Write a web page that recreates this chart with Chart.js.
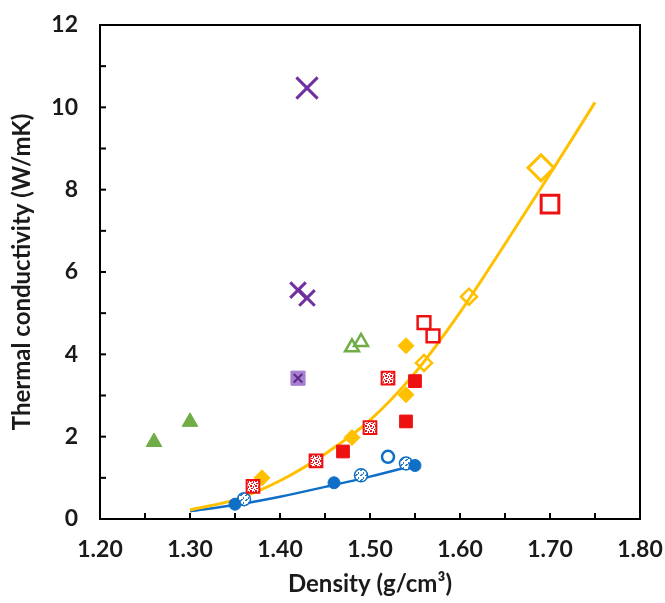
<!DOCTYPE html>
<html>
<head>
<meta charset="utf-8">
<script src="https://cdn.jsdelivr.net/npm/chart.js@4.4.0/dist/chart.umd.min.js"></script>
<style>
  html, body { margin: 0; padding: 0; background: #ffffff; }
  #wrap { width: 665px; height: 603px; }
</style>
</head>
<body>
<div id="wrap"><canvas id="densityChart" width="665" height="603"></canvas></div>
<script>
const greenFilledX = [1.26, 1.30];
const greenFilledY = [1.87, 2.36];
const greenOpenX = [1.48, 1.49];
const greenOpenY = [4.17, 4.30];
const purpleCrossX = [1.43, 1.42, 1.43];
const purpleCrossY = [10.47, 5.56, 5.37];
const purpleBoxX = [1.42];
const purpleBoxY = [3.42];
const redFilledX = [1.47, 1.54, 1.55];
const redFilledY = [1.64, 2.37, 3.35];
const redPatternX = [1.37, 1.44, 1.50, 1.52];
const redPatternY = [0.79, 1.41, 2.22, 3.42];
const redOpenX = [1.56, 1.57, 1.70];
const redOpenY = [4.77, 4.45, 7.65];
const orangeFilledX = [1.38, 1.48, 1.54, 1.54];
const orangeFilledY = [1.00, 1.98, 3.02, 4.21];
const orangeOpenX = [1.56, 1.61, 1.69];
const orangeOpenY = [3.79, 5.40, 8.53];
const blueFilledX = [1.35, 1.46, 1.55];
const blueFilledY = [0.36, 0.88, 1.30];
const bluePatternX = [1.36, 1.49, 1.54];
const bluePatternY = [0.48, 1.06, 1.35];
const blueOpenX = [1.52];
const blueOpenY = [1.51];

// fitted trend lines
const orangeFitX = [1.30, 1.35, 1.40, 1.45, 1.50, 1.55, 1.60, 1.65, 1.70, 1.75];
const orangeFitY = [0.22, 0.47, 0.93, 1.58, 2.40, 3.55, 5.02, 6.68, 8.38, 10.12];
const blueFitX = [1.30, 1.35, 1.40, 1.45, 1.50, 1.55];
const blueFitY = [0.19, 0.34, 0.54, 0.78, 1.03, 1.31];

const xTicks = ['1.20', '1.30', '1.40', '1.50', '1.60', '1.70', '1.80'];
const yTicks = ['0', '2', '4', '6', '8', '10', '12'];

function pts(xs, ys) {
    return xs.map((x, i) => ({ x: x, y: ys[i] }));
}

function makePattern(bg, fg, spots) {
    const c = document.createElement('canvas');
    c.width = 5;
    c.height = 5;
    const g = c.getContext('2d');
    g.fillStyle = bg;
    g.fillRect(0, 0, 5, 5);
    g.fillStyle = fg;
    spots.forEach(s => g.fillRect(s[0], s[1], s[2], s[3]));
    return g.createPattern(c, 'repeat');
}

const redPattern = makePattern('#ffffff', '#e8141b', [[0, 0, 2, 2], [3, 1, 1, 2], [1, 3, 2, 1], [4, 4, 1, 1]]);
const bluePattern = makePattern('#ffffff', '#2a7cc6', [[0, 0, 2, 1], [3, 2, 1, 2], [1, 4, 2, 1]]);

const ORANGE = '#ffc000';
const BLUE = '#0f6fc6';
const RED = '#ee1111';
const GREEN = '#70ad47';
const PURPLE = '#7030a0';
const CLEAR = 'rgba(255,255,255,0)';

const fontFamily = "'Lato', 'Liberation Sans', sans-serif";

// frame round the plot and inward tick marks
const frameTicks = {
    id: 'frameTicks',
    afterDraw(chart) {
        const ctx = chart.ctx;
        const a = chart.chartArea;
        ctx.save();
        ctx.strokeStyle = '#000000';
        ctx.lineWidth = 2;
        ctx.strokeRect(a.left, a.top, a.right - a.left, a.bottom - a.top);
        const xs = chart.scales.x;
        xs.ticks.forEach((t, i) => {
            const px = xs.getPixelForTick(i);
            ctx.beginPath();
            ctx.moveTo(px, a.bottom);
            ctx.lineTo(px, a.bottom - 6);
            ctx.stroke();
        });
        const ys = chart.scales.y;
        ys.ticks.forEach((t, i) => {
            const py = ys.getPixelForTick(i);
            ctx.beginPath();
            ctx.moveTo(a.left, py);
            ctx.lineTo(a.left + 6, py);
            ctx.stroke();
        });
        ctx.restore();
    }
};

function markers(label, xs, ys, style, radius, fill, border, width) {
    return {
        label: label,
        data: pts(xs, ys),
        pointStyle: style,
        pointRadius: radius,
        pointHoverRadius: radius,
        backgroundColor: fill,
        borderColor: border,
        pointBorderWidth: width,
        showLine: false
    };
}

const ctx = document.getElementById('densityChart').getContext('2d');

new Chart(ctx, {
    type: 'scatter',
    data: {
        datasets: [
            markers('purple cross', purpleCrossX, purpleCrossY, 'crossRot', [15, 11, 11], PURPLE, PURPLE, 3),
            markers('purple box x', purpleBoxX, purpleBoxY, 'crossRot', 6, PURPLE, '#5a2a8a', 2),
            markers('purple box', purpleBoxX, purpleBoxY, 'rect', 10, '#a77fd0', '#a77fd0', 1),
            markers('green filled', greenFilledX, greenFilledY, 'triangle', 9, GREEN, GREEN, 1),
            markers('green open', greenOpenX, greenOpenY, 'triangle', 8, CLEAR, GREEN, 2.5),
            markers('red filled', redFilledX, redFilledY, 'rect', 9, RED, RED, 1),
            markers('red pattern', redPatternX, redPatternY, 'rect', 9, redPattern, RED, 2),
            markers('red open', redOpenX, redOpenY, 'rect', [9, 9, 12.5], CLEAR, RED, [2.5, 2.5, 3]),
            markers('orange filled', orangeFilledX, orangeFilledY, 'rectRot', 8, ORANGE, ORANGE, 1),
            markers('orange open', orangeOpenX, orangeOpenY, 'rectRot', [8, 8, 13], CLEAR, ORANGE, [2.5, 2.5, 3]),
            markers('blue filled', blueFilledX, blueFilledY, 'circle', 6, BLUE, BLUE, 1),
            markers('blue pattern', bluePatternX, bluePatternY, 'circle', 6.5, bluePattern, BLUE, 1.5),
            markers('blue open', blueOpenX, blueOpenY, 'circle', 6, CLEAR, BLUE, 2.5),
            {
                label: 'orange fit',
                data: pts(orangeFitX, orangeFitY),
                showLine: true,
                borderColor: ORANGE,
                borderWidth: 3,
                pointRadius: 0,
                cubicInterpolationMode: 'monotone'
            },
            {
                label: 'blue fit',
                data: pts(blueFitX, blueFitY),
                showLine: true,
                borderColor: BLUE,
                borderWidth: 2.5,
                pointRadius: 0,
                cubicInterpolationMode: 'monotone'
            }
        ]
    },
    options: {
        responsive: false,
        animation: false,
        layout: {
            padding: { left: 0, right: 25, top: 25, bottom: 0 }
        },
        plugins: {
            legend: { display: false },
            tooltip: { enabled: false }
        },
        scales: {
            x: {
                type: 'linear',
                min: 1.2,
                max: 1.8,
                afterFit: function (scale) {
                    scale.height = 84;
                    scale.paddingLeft = 0;
                    scale.paddingRight = 0;
                },
                grid: { display: false, drawTicks: false },
                border: { display: false },
                ticks: {
                    stepSize: 0.05,
                    padding: 17,
                    color: '#1a1a1a',
                    font: { family: fontFamily, size: 23, weight: 'bold' },
                    autoSkip: false,
                    maxRotation: 0,
                    callback: function (v) {
                        const k = Math.round(v * 100);
                        if (k % 10 !== 0) return '';
                        return xTicks[(k - 120) / 10];
                    }
                },
                title: {
                    display: true,
                    text: 'Density (g/cm³)',
                    color: '#1a1a1a',
                    font: { family: fontFamily, size: 24, weight: 'bold' },
                    padding: { top: 0, bottom: 4 }
                }
            },
            y: {
                min: 0,
                max: 12,
                afterFit: function (scale) {
                    scale.width = 100;
                    scale.paddingTop = 0;
                    scale.paddingBottom = 0;
                },
                grid: { display: false, drawTicks: false },
                border: { display: false },
                ticks: {
                    stepSize: 1,
                    padding: 22,
                    color: '#1a1a1a',
                    font: { family: fontFamily, size: 23, weight: 'bold' },
                    autoSkip: false,
                    callback: function (v) {
                        const k = Math.round(v);
                        if (k % 2 !== 0) return '';
                        return yTicks[k / 2];
                    }
                },
                title: {
                    display: true,
                    text: 'Thermal conductivity (W/mK)',
                    color: '#1a1a1a',
                    font: { family: fontFamily, size: 24, weight: 'bold' },
                    padding: { top: 8, bottom: 0 }
                }
            }
        }
    },
    plugins: [frameTicks]
});
</script>
</body>
</html>
